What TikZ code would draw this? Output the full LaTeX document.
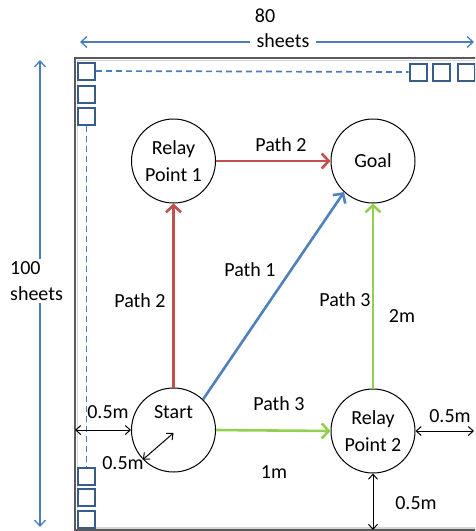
\documentclass[tikz,border=0pt]{standalone}
\usepackage{fontspec}
\setmainfont{Carlito}
\usetikzlibrary{arrows.meta}
\definecolor{redroute}{HTML}{C0504D}
\definecolor{blueroute}{HTML}{4F81BD}
\definecolor{greenroute}{HTML}{92D050}
\definecolor{dimblue}{HTML}{4A7EBB}
\definecolor{tileblue}{HTML}{385D8A}
\definecolor{wallgray}{HTML}{5A5A5A}

\begin{document}
\begin{tikzpicture}[x=1pt, y=-1pt,
  font=\fontsize{20}{26.5}\selectfont,
  spot/.style={circle, draw, line width=1pt, minimum size=84pt, inner sep=0pt,
    align=center, fill=white},
  route/.style={line width=2.6pt, -{Straight Barb[length=7pt,width=15pt]}},
  gapdim/.style={line width=1pt, {Straight Barb[length=5pt,width=9pt]}-{Straight Barb[length=5pt,width=9pt]}},
  sizedim/.style={draw=dimblue, line width=1.3pt,
    {Straight Barb[length=6pt,width=11pt]}-{Straight Barb[length=6pt,width=11pt]}},
  tile/.style={draw=tileblue, line width=2pt, minimum size=17pt, inner sep=0pt},
  guide/.style={draw=dimblue, line width=1.7pt, dash pattern=on 6pt off 4pt},
  lbl/.style={inner sep=1pt}
]
\useasboundingbox (0,0) rectangle (475,531);
\clip (0,0) rectangle (475,531);

% floor area outline with a faint inner shadow
\draw[wallgray!25, line width=1.5pt] (77.5,60.5) rectangle (495,528);
\draw[wallgray, line width=1.6pt] (75,58) rectangle (495,530);

% sheet tiles along the edges
\node[tile] (t1) at (86.5,71) {};
\node[tile] (t2) at (86.5,94.5) {};
\node[tile] (t3) at (86.5,116) {};
\node[tile] (r1) at (418,72) {};
\node[tile] (r2) at (441,72) {};
\node[tile] (r3) at (466,72) {};
\node[tile] (b1) at (86.5,476.5) {};
\node[tile] (b2) at (86.5,497.5) {};
\node[tile] (b3) at (86.5,519) {};
\draw[guide] (t1.east) -- (r1.west);
\draw[guide] (t3.south) -- (b1.north);

% overall size of the area
\coordinate (topL) at (80,42);
\coordinate (topR) at (474,42);
\coordinate (sideT) at (40,60);
\coordinate (sideB) at (40,527);
\draw[sizedim] (topL) -- (topR);
\draw[sizedim] (sideT) -- (sideB);
\node[lbl] (w80) at (265,16) {80};
\node[fill=white, inner xsep=7pt, inner ysep=3pt] (wsheets) at (283,41) {sheets};
\node[fill=white, align=left, anchor=west, inner sep=2pt] (hsheets) at (8,281) {100\\sheets};

% points
\node[spot] (rp1) at (173.5,161) {Relay\\Point 1};
\node[spot] (goal) at (373,161) {Goal};
\node[spot] (start) at (173.5,430) {\raisebox{12pt}[0pt][0pt]{Start}};
\node[spot] (rp2) at (373,431) {Relay\\Point 2};

% routes
\draw[route, redroute] (start.north) -- (rp1.south);
\draw[route, redroute] (rp1.east) -- (goal.west);
\draw[route, blueroute] (start.46) -- (goal.227);
\draw[route, greenroute] (start.east) -- (rp2.west);
\draw[route, greenroute] (rp2.north) -- (goal.south);

\node[lbl] (p2a) at (281,145) {Path 2};
\node[lbl] (p2b) at (140,301) {Path 2};
\node[lbl] (p1) at (250,270) {Path 1};
\node[lbl] (p3a) at (345,300) {Path 3};
\node[lbl] (p3b) at (279,404) {Path 3};
\node[lbl] (d2m) at (402,316) {2m};
\node[lbl] (d1m) at (274,472) {1m};

% clearances
\coordinate (wallL) at (75,430);
\coordinate (wallR) at (474,431);
\coordinate (wallB) at (373,530);
\draw[gapdim] (wallL) -- (start.west);
\draw[gapdim] ([yshift=-3pt]start.center) -- (start.224);
\draw[gapdim] (rp2.east) -- (wallR);
\draw[gapdim] (rp2.south) -- (wallB);
\node[lbl] (c1) at (108,412) {0.5m};
\node[lbl] (c2) at (123,463) {0.5m};
\node[lbl] (c3) at (450,416) {0.5m};
\node[lbl] (c4) at (416,503) {0.5m};
\end{tikzpicture}
\end{document}
